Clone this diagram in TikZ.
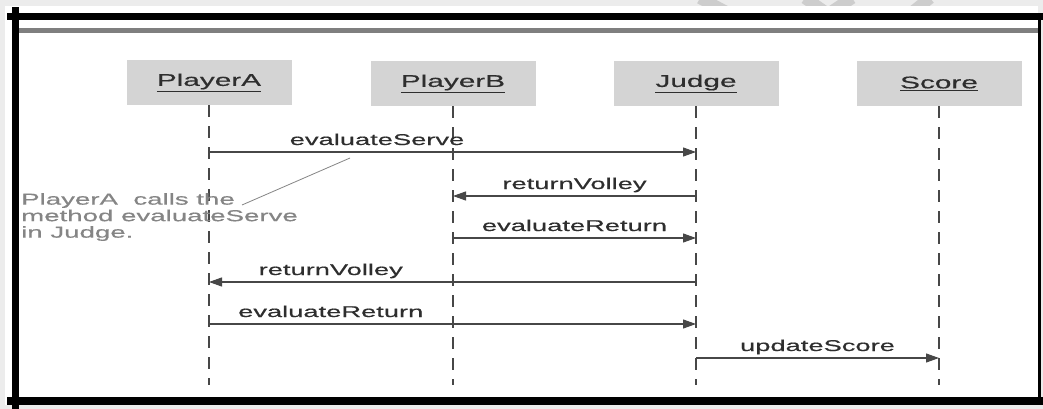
\documentclass[tikz,border=0pt]{standalone}
\usepackage{fontspec}
\newfontfamily\seqfont{Liberation Sans}[FakeStretch=1.75, FakeBold=0.5]
\usepackage{xcolor}
\usepackage{tikz}
\usetikzlibrary{arrows.meta, positioning, calc}

\definecolor{paper}{HTML}{ECECEC}
\definecolor{headgray}{HTML}{D4D4D4}
\definecolor{inkgray}{HTML}{2E2E2E}
\definecolor{linegray}{HTML}{474747}
\definecolor{notegray}{HTML}{858585}
\definecolor{rulegray}{HTML}{7F7F7F}
\definecolor{wmgray}{HTML}{CDCDCD}

\begin{document}
\begin{tikzpicture}[
    x=1pt, y=-1pt,
    every node/.style={font=\seqfont, text=inkgray},
    head/.style={
        fill=headgray, minimum width=165pt, minimum height=45pt,
        inner sep=0pt, font=\seqfont\fontsize{17}{18}\selectfont
    },
    lifeline/.style={
        draw=linegray, line width=1.7pt, dash pattern=on 12pt off 9pt
    },
    msg/.style={
        draw=linegray, line width=1.1pt, -{Triangle[length=13pt, width=9pt]}
    },
    msglabel/.style={
        font=\seqfont\fontsize{15.6}{18}\selectfont,
        anchor=base, inner sep=0pt, yshift=7pt
    },
    note/.style={
        font=\seqfont\fontsize{15.8}{16.5}\selectfont, text=notegray,
        align=left, inner sep=0pt, anchor=north west
    },
    leader/.style={draw=notegray, line width=0.8pt},
    wmband/.style={draw=wmgray, line width=12pt}
]
\useasboundingbox (0,0) rectangle (1043,409);

% Frame
\fill[paper] (0,0) rectangle (1043,409);
\begin{scope}
    \clip (680,0) rectangle (940,13);
    \draw[wmband] (700,-2) -- (730,14);
    \draw[wmband] (805,-2) -- (828,14) -- (852,-2);
    \draw[wmband] (930,-2) -- (910,14);
\end{scope}
\fill[white] (5,6) rectangle (1038,405);
\fill[black] (7,13) rectangle (1043,20);
\fill[black] (12,7) rectangle (19,409);
\fill[black] (7,397) rectangle (1043,405);
\fill[black] (1038,13) rectangle (1041,397);
\fill[rulegray] (19,28) rectangle (1038,33);

% Objects
\node[head] (pa) at (209,82.5) {\underline{PlayerA}};
\node[head] (pb) at (453,83.5) {\underline{PlayerB}};
\node[head] (judge) at (696,83.5) {\underline{Judge}};
\node[head] (score) at (939,83.5) {\underline{Score}};

% Lifelines
\coordinate (bottom) at (0,385);
\draw[lifeline] (pa.south) -- (pa |- bottom);
\draw[lifeline] (pb.south) -- (pb |- bottom);
\draw[lifeline] (judge.south) -- (judge |- bottom);
\draw[lifeline] (score.south) -- (score |- bottom);

% Messages
\coordinate (r1) at (0,152);
\coordinate (r2) at (0,196);
\coordinate (r3) at (0,238);
\coordinate (r4) at (0,282);
\coordinate (r5) at (0,324);
\coordinate (r6) at (0,358);
\draw[msg] (pa |- r1) -- node[msglabel, pos=0.345] {evaluateServe} (judge |- r1);
\draw[msg] (judge |- r2) -- node[msglabel] {returnVolley} (pb |- r2);
\draw[msg] (pb |- r3) -- node[msglabel] {evaluateReturn} (judge |- r3);
\draw[msg] (judge |- r4) -- node[msglabel, pos=0.75] {returnVolley} (pa |- r4);
\draw[msg] (pa |- r5) -- node[msglabel, pos=0.25] {evaluateReturn} (judge |- r5);
\draw[msg] (judge |- r6) -- node[msglabel] {updateScore} (score |- r6);

% Note
\node[note] (note) at (21,193) {PlayerA\ \ calls the\\method evaluateServe\\in Judge.};
\coordinate (notetip) at (242,205);
\coordinate (callout) at (350,158);
\draw[leader] (notetip) -- (callout);

\end{tikzpicture}
\end{document}
